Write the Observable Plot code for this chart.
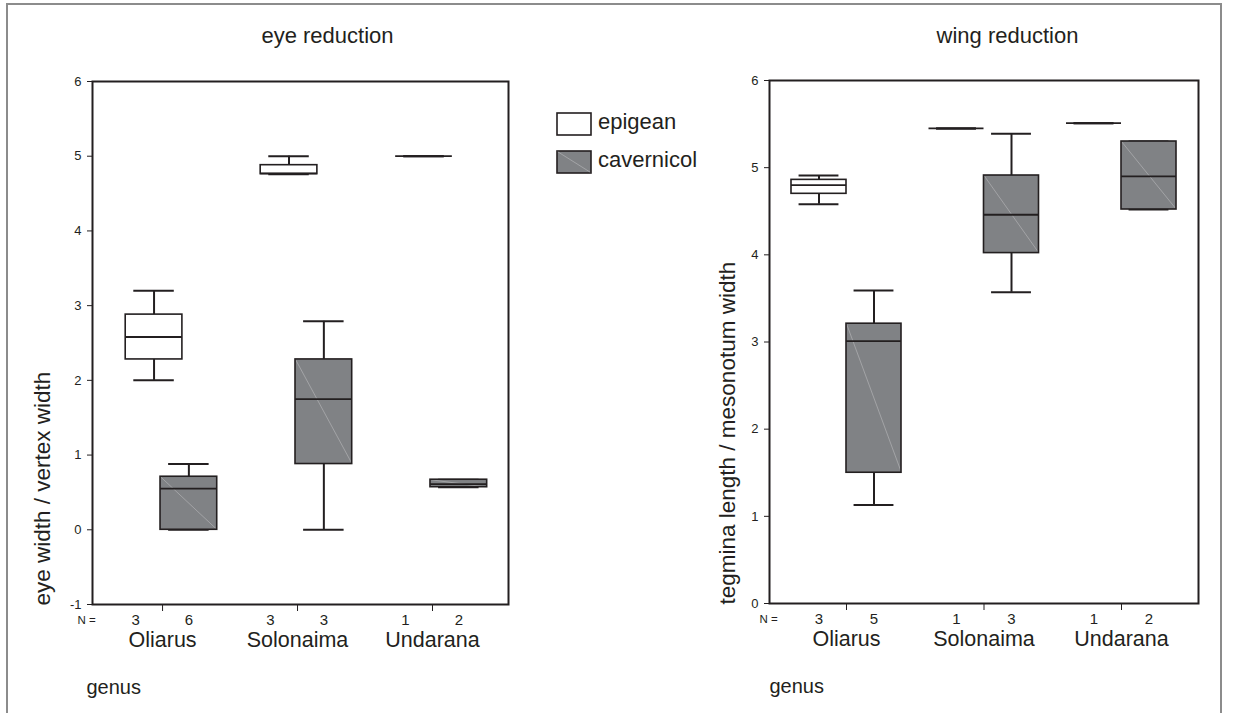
<!DOCTYPE html>
<html>
<head>
<meta charset="utf-8">
<script src="https://cdn.jsdelivr.net/npm/d3@7"></script>
<script src="https://cdn.jsdelivr.net/npm/@observablehq/plot@0.6"></script>
<style>
  html, body { margin: 0; padding: 0; background: #ffffff; }
  #wrap { position: relative; width: 1255px; height: 713px; overflow: hidden; background: #ffffff; }
  #border { position: absolute; left: 6px; top: 3px; width: 1216px; height: 800px; border: 2px solid #8c8c8c; box-sizing: border-box; pointer-events: none; }
</style>
</head>
<body>
<div id="wrap"></div>
<script>
// ---------- data ----------
const genera = ["Oliarus", "Solonaima", "Undarana"];
const habitats = ["epigean", "cavernicol"];
const habitatFill = ["#ffffff", "#808285"];

// five-number summaries per genus: [min, q1, median, q3, max]
const eyeEpigean    = [[2.00, 2.28, 2.58, 2.88, 3.20], [4.76, 4.76, 4.77, 4.88, 5.00], [5.00, 5.00, 5.00, 5.00, 5.00]];
const eyeCavernicol = [[0.00, 0.00, 0.55, 0.71, 0.88], [0.00, 0.88, 1.75, 2.28, 2.79], [0.57, 0.57, 0.61, 0.67, 0.67]];
const eyeNEpigean    = [3, 3, 1];
const eyeNCavernicol = [6, 3, 2];
const eyeTicks = [-1, 0, 1, 2, 3, 4, 5, 6];

const wingEpigean    = [[4.58, 4.70, 4.80, 4.86, 4.91], [5.45, 5.45, 5.45, 5.45, 5.45], [5.51, 5.51, 5.51, 5.51, 5.51]];
const wingCavernicol = [[1.13, 1.50, 3.01, 3.21, 3.59], [3.57, 4.02, 4.46, 4.91, 5.39], [4.52, 4.52, 4.90, 5.30, 5.30]];
const wingNEpigean    = [3, 1, 1];
const wingNCavernicol = [5, 3, 2];
const wingTicks = [0, 1, 2, 3, 4, 5, 6];

// ---------- helpers ----------
const INK = "#231f20";
const FONT = "'Liberation Sans', Arial, Helvetica, sans-serif";

function buildRows(epi, cav, nEpi, nCav) {
  return habitats.flatMap((h, hi) => genera.map((g, gi) => {
    const s = (hi ? cav : epi)[gi];
    return {genus: g, gi, habitat: h, min: s[0], q1: s[1], med: s[2], q3: s[3], max: s[4], n: (hi ? nCav : nEpi)[gi]};
  }));
}

function panel(cfg) {
  const rows = cfg.rows;
  const cx = d => d.gi + cfg.offset[d.habitat];
  const hw = cfg.halfWidth, cap = cfg.capHalf;
  const boxes = rows.filter(d => d.q3 > d.q1);
  const cav = boxes.filter(d => d.habitat === "cavernicol");
  const svg = Plot.plot({
    width: cfg.width,
    height: 713,
    marginTop: cfg.marginTop,
    marginRight: cfg.marginRight,
    marginBottom: cfg.marginBottom,
    marginLeft: cfg.marginLeft,
    style: {fontFamily: FONT, fontSize: "13px", color: INK, background: "transparent", overflow: "visible"},
    x: {domain: cfg.xDomain},
    y: {domain: cfg.yDomain},
    color: {domain: habitats, range: habitatFill},
    marks: [
      // whiskers
      Plot.ruleX(rows, {x: cx, y1: "q3", y2: "max", stroke: INK, strokeWidth: 2}),
      Plot.ruleX(rows, {x: cx, y1: "min", y2: "q1", stroke: INK, strokeWidth: 2}),
      Plot.ruleY(rows, {y: "max", x1: d => cx(d) - cap, x2: d => cx(d) + cap, stroke: INK, strokeWidth: 2}),
      Plot.ruleY(rows, {y: "min", x1: d => cx(d) - cap, x2: d => cx(d) + cap, stroke: INK, strokeWidth: 2}),
      // box fill
      Plot.rect(boxes, {x1: d => cx(d) - hw, x2: d => cx(d) + hw, y1: "q1", y2: "q3", fill: "habitat"}),
      // light diagonal of the shaded boxes
      Plot.link(cav, {x1: d => cx(d) - hw, y1: "q3", x2: d => cx(d) + hw, y2: "q1", stroke: "#c4c5c7", strokeWidth: 0.5}),
      // box outline
      Plot.rect(boxes, {x1: d => cx(d) - hw, x2: d => cx(d) + hw, y1: "q1", y2: "q3", fill: "none", stroke: INK, strokeWidth: 1.6}),
      // median
      Plot.ruleY(rows, {y: "med", x1: d => cx(d) - hw, x2: d => cx(d) + hw, stroke: INK, strokeWidth: 1.8}),
      // axes
      Plot.axisY({ticks: cfg.yTicks, tickFormat: d => String(d), tickSize: 5, tickPadding: 6, fontSize: 13, label: null, stroke: INK, fill: INK}),
      Plot.axisX({ticks: [0, 1, 2], tickSize: 7, tickPadding: 20, tickFormat: i => genera[i], fontSize: 21.5, label: null, stroke: INK, fill: INK}),
      Plot.frame({stroke: INK, strokeWidth: 2}),
      // N counts
      Plot.text(rows, {x: d => d.gi + cfg.nOffset[d.habitat], frameAnchor: "bottom", dy: 20, lineAnchor: "bottom", text: d => String(d.n), fontSize: 15, fill: INK}),
      Plot.text(["N ="], {frameAnchor: "bottom-left", dx: cfg.nEqDx, dy: 19, lineAnchor: "bottom", textAnchor: "middle", text: d => d, fontSize: 11.5, fill: INK}),
      // title
      Plot.text([cfg.title], {frameAnchor: "top", dx: cfg.titleDx, dy: cfg.titleDy, lineAnchor: "bottom", text: d => d, fontSize: 22, fill: INK}),
      // y label
      Plot.text([cfg.yLabel], {frameAnchor: "bottom-left", rotate: -90, textAnchor: "start", lineAnchor: "bottom", dx: cfg.yLabelDx, dy: 1, text: d => d, fontSize: 22.5, fill: INK}),
      // x label
      Plot.text(["genus"], {frameAnchor: "bottom-left", textAnchor: "start", lineAnchor: "bottom", dx: cfg.genusDx, dy: 89, text: d => d, fontSize: 20, fill: INK})
    ]
  });
  svg.style.position = "absolute";
  svg.style.left = cfg.left + "px";
  svg.style.top = "0px";
  svg.style.maxWidth = "none";
  return svg;
}

const wrap = document.getElementById("wrap");

wrap.appendChild(panel({
  rows: buildRows(eyeEpigean, eyeCavernicol, eyeNEpigean, eyeNCavernicol),
  left: 0, width: 640,
  marginLeft: 92, marginRight: 132, marginTop: 81, marginBottom: 109,
  xDomain: [-0.519, 2.563], yDomain: [-1, 6], yTicks: eyeTicks,
  offset: {epigean: -0.063, cavernicol: 0.195},
  nOffset: {epigean: -0.2, cavernicol: 0.195},
  halfWidth: 0.21, capHalf: 0.15,
  nEqDx: -6,
  title: "eye reduction", titleDx: 27, titleDy: -39,
  yLabel: "eye width / vertex width", yLabelDx: -43,
  genusDx: -6
}));

wrap.appendChild(panel({
  rows: buildRows(wingEpigean, wingCavernicol, wingNEpigean, wingNCavernicol),
  left: 640, width: 615,
  marginLeft: 129, marginRight: 57, marginTop: 80, marginBottom: 110,
  xDomain: [-0.56, 2.56], yDomain: [0, 6], yTicks: wingTicks,
  offset: {epigean: -0.2, cavernicol: 0.2},
  nOffset: {epigean: -0.2, cavernicol: 0.2},
  halfWidth: 0.2, capHalf: 0.145,
  nEqDx: -1,
  title: "wing reduction", titleDx: 23.5, titleDy: -38,
  yLabel: "tegmina length / mesonotum width", yLabelDx: -35,
  genusDx: 0
}));

// legend
const legend = d3.create("svg")
  .attr("width", 190).attr("height", 90)
  .style("position", "absolute").style("left", "550px").style("top", "100px")
  .style("font-family", FONT);
habitats.forEach((h, i) => {
  const g = legend.append("g").attr("transform", `translate(0,${i * 38})`);
  g.append("rect").attr("x", 7).attr("y", 13).attr("width", 34).attr("height", 22)
    .attr("fill", habitatFill[i]).attr("stroke", INK).attr("stroke-width", 1.6);
  if (h === "cavernicol") {
    g.append("line").attr("x1", 7.8).attr("y1", 13.8).attr("x2", 40.2).attr("y2", 34.2)
      .attr("stroke", "#c4c5c7").attr("stroke-width", 0.5);
  }
  g.append("text").attr("x", 48).attr("y", 29).attr("font-size", 22).attr("fill", INK).text(h);
});
wrap.appendChild(legend.node());

const border = document.createElement("div");
border.id = "border";
wrap.appendChild(border);
</script>
</body>
</html>
